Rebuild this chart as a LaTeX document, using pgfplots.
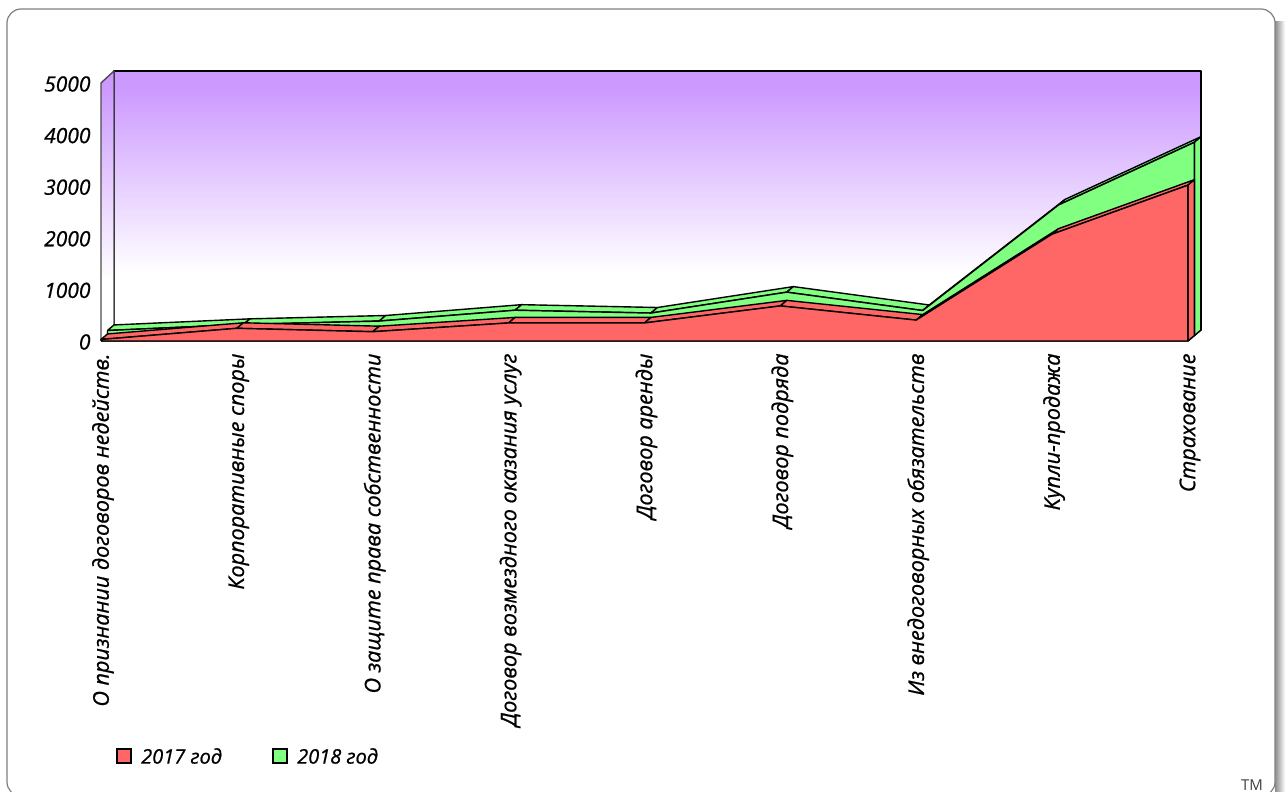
\documentclass[border=0pt]{standalone}
\usepackage{graphicx}
\usepackage{pgfplots}
\pgfplotsset{compat=1.18}
\usepackage{fontspec}
\setmainfont{Open Sans}[ItalicFeatures={FakeBold=0.8}]
\definecolor{redA}{HTML}{FF6666}
\definecolor{greenA}{HTML}{80FF80}
\definecolor{wallP}{HTML}{CC99FF}
\pgfdeclareverticalshading{wall}{100bp}{color(0bp)=(white); color(36bp)=(white); color(72bp)=(wallP); color(100bp)=(wallP)}
% one segment of a sloped top surface: i, v(i), v(i+1), depth0, depth1 (depth in px)
\newcommand\seg[6]{%
 \pgfmathsetmacro\xa{#1+#4*0.00736}\pgfmathsetmacro\xb{#1+1+#4*0.00736}%
 \pgfmathsetmacro\xc{#1+1+#5*0.00736}\pgfmathsetmacro\xd{#1+#5*0.00736}%
 \pgfmathsetmacro\ya{#2+#4*16.47}\pgfmathsetmacro\yb{#3+#4*16.47}%
 \pgfmathsetmacro\yc{#3+#5*16.47}\pgfmathsetmacro\yd{#2+#5*16.47}%
 \addplot[draw=black,line width=1.4pt,line join=round,fill=#6] coordinates {(\xa,\ya)(\xb,\yb)(\xc,\yc)(\xd,\yd)(\xa,\ya)};%
}
\begin{document}
\begin{tikzpicture}[x=1pt,y=1pt]
\useasboundingbox (0,0) rectangle (1285,792);
\clip (0,0) rectangle (1285,792);
\shade[left color=black!45,right color=white] (1275,0) rectangle (1285,770);
\draw[black!50,line width=1.2pt,fill=white,rounded corners=14pt] (7,-4) rectangle (1275,783);
\begin{axis}[
 at={(101pt,451pt)},anchor=south west,
 scale only axis,width=1087pt,height=258pt,
 xmin=0,xmax=8,ymin=0,ymax=5000,
 clip=false,axis line style={draw=none},
 major tick length=0pt,
 xtick={0,...,8},ytick={0,1000,...,5000},
 xticklabels={О признании договоров недейств.,Корпоративные споры,О защите права собственности,Договор возмездного оказания услуг,Договор аренды,Договор подряда,Из внедоговорных обязательств,Купли-продажа,Страхование},
 xticklabel style={rotate=90,anchor=east,font=\fontsize{21.6}{24}\selectfont\itshape,text=black,xshift=-9pt,yshift=-2pt},
 yticklabel style={font=\fontsize{21}{24}\selectfont\itshape,text=black,/pgf/number format/assume math mode=true,/pgf/number format/1000 sep={},xshift=-7pt,yshift=-1pt},
 every axis plot/.append style={line join=round},
]
% walls
\addplot[draw=black,line width=1.4pt,shading=wall] coordinates {(0.0957,213)(8.0957,213)(8.0957,5233)(0.0957,5233)(0.0957,213)};
\addplot[draw=black!70,line width=1.4pt,shading=wall] coordinates {(0,0)(0.0957,213)(0.0957,5233)(0,5000)(0,0)};
\addplot[draw=black,line width=1.4pt,fill=white] coordinates {(0,0)(0.0957,213)(8.0957,213)(8,0)(0,0)};
% 2018 (stacked on 2017)
\seg{0}{97}{215}{6.5}{13}{greenA}
\seg{1}{215}{280}{6.5}{13}{greenA}
\seg{2}{280}{490}{6.5}{13}{greenA}
\seg{3}{490}{435}{6.5}{13}{greenA}
\seg{4}{435}{840}{6.5}{13}{greenA}
\seg{5}{840}{484}{6.5}{13}{greenA}
\seg{6}{484}{2530}{6.5}{13}{greenA}
\seg{7}{2530}{3745}{6.5}{13}{greenA}
\addplot[draw=black,line width=1.4pt,fill=greenA] coordinates {(8.0478,106)(8.0957,213)(8.0957,3958)(8.0478,3851)(8.0478,106)};
\addplot[draw=black,line width=1.4pt,fill=greenA] coordinates {(0.0478,106)(0.0478,203)(1.0478,321)(2.0478,386)(3.0478,596)(4.0478,541)(5.0478,946)(6.0478,590)(7.0478,2636)(8.0478,3851)(8.0478,106)(0.0478,106)};
% 2017
\seg{0}{30}{246}{0}{6.5}{redA}
\seg{1}{246}{180}{0}{6.5}{redA}
\seg{2}{180}{350}{0}{6.5}{redA}
\seg{3}{350}{350}{0}{6.5}{redA}
\seg{4}{350}{680}{0}{6.5}{redA}
\seg{5}{680}{405}{0}{6.5}{redA}
\seg{6}{405}{2070}{0}{6.5}{redA}
\seg{7}{2070}{3020}{0}{6.5}{redA}
\addplot[draw=black,line width=1.4pt,fill=redA] coordinates {(8,0)(8.0478,106)(8.0478,3126)(8,3020)(8,0)};
\addplot[draw=black,line width=1.4pt,fill=redA] coordinates {(0,0)(0,30)(1,246)(2,180)(3,350)(4,350)(5,680)(6,405)(7,2070)(8,3020)(8,0)(0,0)};
\end{axis}
\draw[black,line width=1.4pt,fill=redA] (117,29) rectangle (131,43);
\node[anchor=west,inner sep=0pt,font=\fontsize{20}{24}\selectfont\itshape,text=black] at (141,36) {2017 год};
\draw[black,line width=1.4pt,fill=greenA] (273,29) rectangle (287,43);
\node[anchor=west,inner sep=0pt,font=\fontsize{20}{24}\selectfont\itshape,text=black] at (297,36) {2018 год};
\node[anchor=center,font=\fontsize{15}{17}\selectfont,text=black!75] at (1252,7) {TM};
\end{tikzpicture}
\end{document}
